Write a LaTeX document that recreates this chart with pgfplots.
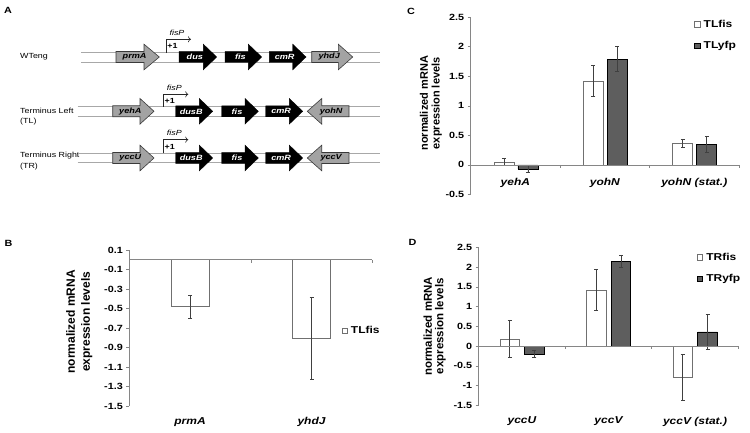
\documentclass[border=0pt]{standalone}
\usepackage{pgfplots}
\pgfplotsset{compat=1.18}
\usepackage{pgfplotstable}
\usetikzlibrary{arrows.meta}
\usepackage{fontspec}
\setmainfont{Liberation Sans}[FakeStretch=1.2]
\newfontfamily\rotfont{Liberation Sans}
\definecolor{axgray}{HTML}{868686}
\definecolor{errc}{HTML}{404040}
\definecolor{dkbar}{HTML}{5E5E5E}
\definecolor{lgray}{HTML}{A3A3A3}
\definecolor{linegray}{HTML}{A8A8A8}
\definecolor{outl}{HTML}{3A3A3A}
\definecolor{fisedge}{HTML}{707070}

\pgfplotstableread{
x y e
0 -0.48 0.12
1 -0.81 0.42
}\Bfis
\pgfplotstableread{
x y e
0 0.05 0.06
1 1.42 0.26
2 0.36 0.07
}\Cfis
\pgfplotstableread{
x y e
0 -0.07 0.06
1 1.79 0.21
2 0.35 0.13
}\Cyfp
\pgfplotstableread{
x y e
0 0.18 0.46
1 1.42 0.52
2 -0.79 0.58
}\Dfis
\pgfplotstableread{
x y e
0 -0.20 0.08
1 2.15 0.16
2 0.36 0.45
}\Dyfp

\newcommand{\fA}{\fontsize{7.4}{9}\selectfont}
\newcommand{\gfont}{\bfseries\itshape\fontsize{7.6}{9}\selectfont}
% right-pointing gene arrow: x1, xhead, x2, yc, style, label, textcolor
\newcommand{\rarrow}[7]{%
  \draw[#5] (#1,#4-5.5) -- (#2,#4-5.5) -- (#2,#4-12.8) -- (#3,#4) -- (#2,#4+12.8) -- (#2,#4+5.5) -- (#1,#4+5.5) -- cycle;
  \node[font=\gfont, text=#7, inner sep=0pt] at ({(#1+#3)/2-3},#4) {#6};}
% left-pointing: xtip, xhead, x2, yc, style, label, textcolor
\newcommand{\larrow}[7]{%
  \draw[#5] (#3,#4-5.5) -- (#2,#4-5.5) -- (#2,#4-12.8) -- (#1,#4) -- (#2,#4+12.8) -- (#2,#4+5.5) -- (#3,#4+5.5) -- cycle;
  \node[font=\gfont, text=#7, inner sep=0pt] at ({(#1+#3)/2+3},#4) {#6};}
\newcommand{\prom}[3]{% xv, ybottom, yh
  \draw[black!85, line width=0.6pt, -{To[length=3pt,width=6pt]}] (#1,#2) -- (#1,#3) -- (#1+25,#3);
  \node[font=\itshape\fA, inner sep=0pt] at (#1+11,#3-6.5) {fisP};
  \node[font=\bfseries\fA, inner sep=0pt] at (#1+6.5,#3+7) {+1};}
\newcommand{\genelines}[2]{% x start, yc
  \draw[linegray, line width=0.7pt] (#1,#2-4.7) -- (380,#2-4.7);
  \draw[linegray, line width=0.7pt] (#1,#2+4.7) -- (380,#2+4.7);}

\pgfplotsset{panel/.style={
  scale only axis, anchor=south west, clip=false,
  axis y line*=left, axis x line*=bottom,
  x axis line style={draw=none},
  y axis line style={draw=axgray, line width=0.6pt},
  ytick style={draw=axgray, line width=0.6pt},
  xtick style={draw=none},
  tick align=outside, major tick length=3pt,
  /pgf/number format/assume math mode=true,
  yticklabel style={font=\bfseries\fontsize{9}{10}\selectfont, text=black},
  xticklabel style={font=\bfseries\itshape\fontsize{10}{12}\selectfont, text=black},
  ylabel style={align=center, anchor=center},
  ylabel={normalized mRNA\\expression levels},
  error bars/y dir=both, error bars/y explicit,
  error bars/error mark options={rotate=90, draw=errc, mark size=2pt, line width=0.6pt},
  legend image code/.code={\draw[##1, line width=0.6pt] (0pt,-2.6pt) rectangle (5.2pt,2.6pt);},
  legend cell align=left,
  legend style={draw=none, fill=none, inner sep=0pt, row sep=9.5pt,
    font=\bfseries\fontsize{10}{12}\selectfont, nodes={inner ysep=1.5pt, inner xsep=3.5pt}},
}}

\begin{document}
\begin{tikzpicture}
\useasboundingbox (0,0) rectangle (750pt,432pt);
\begin{scope}[shift={(0pt,432pt)}, x=1pt, y=-1pt]
  % panel letters
  \node[font=\bfseries\fontsize{9}{11}\selectfont] at (8,10.7) {A};
  \node[font=\bfseries\fontsize{9}{11}\selectfont] at (8.5,243) {B};
  \node[font=\bfseries\fontsize{9}{11}\selectfont] at (411,11.7) {C};
  \node[font=\bfseries\fontsize{9}{11}\selectfont] at (412.5,242.8) {D};
  % row labels
  \node[font=\fA, anchor=west, inner sep=0pt] at (20,56.5) {WTeng};
  \node[font=\fA, anchor=west, inner sep=0pt] at (20,110.7) {Terminus Left};
  \node[font=\fA, anchor=west, inner sep=0pt] at (20,121.7) {(TL)};
  \node[font=\fA, anchor=west, inner sep=0pt] at (20,155.7) {Terminus Right};
  \node[font=\fA, anchor=west, inner sep=0pt] at (20,166.7) {(TR)};
  % row 1
  \genelines{81}{57.3}
  \rarrow{116}{144}{159.3}{57}{fill=lgray, draw=outl, line width=0.6pt}{prmA}{black}
  \rarrow{179}{203.3}{216.7}{57}{fill=black, draw=black}{dus}{white}
  \rarrow{225}{248.3}{261.7}{57}{fill=black, draw=black}{fis}{white}
  \rarrow{269.3}{292.7}{306}{57}{fill=black, draw=black}{cmR}{white}
  \rarrow{311.7}{338.3}{352.7}{57}{fill=lgray, draw=outl, line width=0.6pt}{yhdJ}{black}
  \prom{166}{52.6}{39.3}
  % row 2
  \genelines{77.7}{111.3}
  \rarrow{112.7}{140}{154}{111.3}{fill=lgray, draw=outl, line width=0.6pt}{yehA}{black}
  \rarrow{175.7}{199.3}{212.7}{111.3}{fill=black, draw=black}{dusB}{white}
  \rarrow{221.7}{245}{258.3}{111.3}{fill=black, draw=black}{fis}{white}
  \rarrow{265.7}{289.3}{302.7}{111.3}{fill=black, draw=black}{cmR}{white}
  \larrow{307.3}{321.7}{349}{111.3}{fill=lgray, draw=outl, line width=0.6pt}{yohN}{black}
  \prom{163.3}{106.6}{94.3}
  % row 3
  \genelines{77.7}{158}
  \rarrow{112.7}{140}{154}{158}{fill=lgray, draw=outl, line width=0.6pt}{yccU}{black}
  \rarrow{175.7}{199.3}{212.7}{158}{fill=black, draw=black}{dusB}{white}
  \rarrow{221.7}{245}{258.3}{158}{fill=black, draw=black}{fis}{white}
  \rarrow{265.7}{289.3}{302.7}{158}{fill=black, draw=black}{cmR}{white}
  \larrow{307.3}{321.7}{349}{158}{fill=lgray, draw=outl, line width=0.6pt}{yccV}{black}
  \prom{163.3}{153.3}{139.7}
\end{scope}

% Panel B
\begin{axis}[panel, at={(129.3pt,26pt)}, width=243pt, height=156pt,
  xmin=-0.5, xmax=1.5, ymin=-1.5, ymax=0.1,
  ytick={-1.5,-1.3,-1.1,-0.9,-0.7,-0.5,-0.3,-0.1,0.1},
  yticklabel style={/pgf/number format/.cd, fixed, fixed zerofill, precision=1},
  xtick={0,1}, xticklabels={prmA,yhdJ},
  xticklabel style={yshift=-5pt},
  ylabel style={font=\rotfont\bfseries\fontsize{12}{15}\selectfont, at={(axis description cs:-0.206,0.54)}},
  legend style={at={(axis description cs:0.873,0.483)}, anchor=west}]
  \addplot[ybar, bar width=37.7pt, bar shift=0pt, fill=white, draw=fisedge, line width=0.6pt,
    error bars/error bar style={draw=errc, line width=0.6pt}] table[x=x, y=y, y error=e] {\Bfis};
  \addlegendentry{TLfis}
  \draw[axgray, line width=0.6pt] (axis cs:-0.5,0) -- (axis cs:1.5,0);
  \draw[axgray, line width=0.6pt] (axis cs:0.5,0) -- ++(0pt,-3pt);
  \draw[axgray, line width=0.6pt] (axis cs:1.5,0) -- ++(0pt,-3pt);
\end{axis}

% Panel C
\begin{axis}[panel, at={(470.7pt,237.7pt)}, width=268.3pt, height=177pt,
  xmin=-0.5, xmax=2.5, ymin=-0.5, ymax=2.5,
  ytick={-0.5,0,0.5,1,1.5,2,2.5},
  xtick={0,1,2}, xticklabels={yehA,yohN,yohN (stat.)},
  xticklabel style={yshift=23pt},
  ylabel style={font=\rotfont\bfseries\fontsize{11}{11.8}\selectfont, at={(axis description cs:-0.148,0.514)}},
  legend style={at={(axis description cs:0.833,0.995)}, anchor=north west}]
  \addplot[ybar, bar width=20pt, bar shift=-11.5pt, fill=white, draw=fisedge, line width=0.6pt,
    error bars/error bar style={draw=errc, line width=0.6pt, xshift=-11.5pt}] table[x=x, y=y, y error=e] {\Cfis};
  \addlegendentry{TLfis}
  \addplot[ybar, bar width=20pt, bar shift=12.5pt, fill=dkbar, draw=black, line width=0.6pt,
    error bars/error bar style={draw=errc, line width=0.6pt, xshift=12.5pt}] table[x=x, y=y, y error=e] {\Cyfp};
  \addlegendentry{TLyfp}
  \draw[axgray, line width=0.6pt] (axis cs:-0.5,0) -- (axis cs:2.5,0);
  \draw[axgray, line width=0.6pt] (axis cs:0.5,0) -- ++(0pt,-3pt);
  \draw[axgray, line width=0.6pt] (axis cs:1.5,0) -- ++(0pt,-3pt);
  \draw[axgray, line width=0.6pt] (axis cs:2.5,0) -- ++(0pt,-3pt);
\end{axis}

% Panel D
\begin{axis}[panel, at={(478.7pt,26.7pt)}, width=259.6pt, height=158pt,
  xmin=-0.5, xmax=2.5, ymin=-1.5, ymax=2.5,
  ytick={-1.5,-1,-0.5,0,0.5,1,1.5,2,2.5},
  xtick={0,1,2}, xticklabels={yccU,yccV,yccV (stat.)},
  xticklabel style={yshift=-5pt},
  ylabel style={font=\rotfont\bfseries\fontsize{11.5}{11.5}\selectfont, at={(axis description cs:-0.170,0.5)}},
  legend style={at={(axis description cs:0.84,0.975)}, anchor=north west}]
  \addplot[ybar, bar width=19.5pt, bar shift=-12.3pt, fill=white, draw=fisedge, line width=0.6pt,
    error bars/error bar style={draw=errc, line width=0.6pt, xshift=-12.3pt}] table[x=x, y=y, y error=e] {\Dfis};
  \addlegendentry{TRfis}
  \addplot[ybar, bar width=19.5pt, bar shift=12.5pt, fill=dkbar, draw=black, line width=0.6pt,
    error bars/error bar style={draw=errc, line width=0.6pt, xshift=12.5pt}] table[x=x, y=y, y error=e] {\Dyfp};
  \addlegendentry{TRyfp}
  \draw[axgray, line width=0.6pt] (axis cs:-0.5,0) -- (axis cs:2.5,0);
  \draw[axgray, line width=0.6pt] (axis cs:0.5,0) -- ++(0pt,-3pt);
  \draw[axgray, line width=0.6pt] (axis cs:1.5,0) -- ++(0pt,-3pt);
  \draw[axgray, line width=0.6pt] (axis cs:2.5,0) -- ++(0pt,-3pt);
\end{axis}
\end{tikzpicture}
\end{document}
